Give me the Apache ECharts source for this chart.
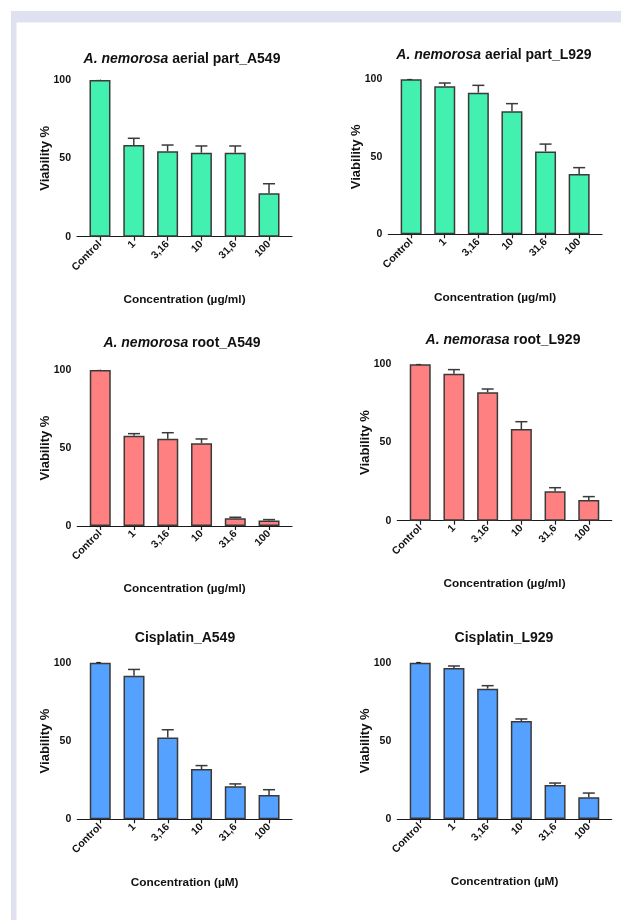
<!DOCTYPE html>
<html>
<head>
<meta charset="utf-8">
<script src="https://cdn.jsdelivr.net/npm/echarts@6/dist/echarts.min.js"></script>
<style>
  html, body { margin: 0; padding: 0; background: #fff; }
  #chart { width: 621px; height: 920px; }
</style>
</head>
<body>
<div id="chart"></div>
<script>
// categories / ticks
var concentrations = ['Control', '1', '3,16', '10', '31,6', '100']
var yTicks = [0, 50, 100]

// mean viability (%) and SD
var aerialA549 = [100, 58.5, 54.5, 53.6, 53.6, 27.7]
var aerialA549Err = [0, 4.3, 4.0, 4.3, 4.3, 6.1]
var aerialL929 = [100, 95.5, 91.4, 79.4, 53.5, 38.9]
var aerialL929Err = [0, 2.1, 4.7, 4.9, 4.7, 4.1]
var rootA549 = [100, 57.9, 56.0, 53.0, 4.9, 3.6]
var rootA549Err = [0, 1.3, 3.8, 2.8, 0.7, 0.5]
var rootL929 = [100, 94.0, 82.1, 58.6, 18.8, 13.2]
var rootL929Err = [0, 2.6, 2.1, 4.7, 2.3, 2.2]
var cisA549 = [100, 91.7, 52.3, 32.1, 21.1, 15.5]
var cisA549Err = [0, 4.0, 4.9, 2.2, 1.5, 3.4]
var cisL929 = [100, 96.6, 83.4, 62.7, 21.7, 13.9]
var cisL929Err = [0, 1.3, 1.9, 1.3, 1.3, 2.7]

var titles = [
  '{i|A. nemorosa} aerial part_A549',
  '{i|A. nemorosa} aerial part_L929',
  '{i|A. nemorosa} root_A549',
  '{i|A. nemorasa} root_L929',
  'Cisplatin_A549',
  'Cisplatin_L929'
]
var xNames = ['Concentration (µg/ml)', 'Concentration (µg/ml)', 'Concentration (µg/ml)',
  'Concentration (µg/ml)', 'Concentration (µM)', 'Concentration (µM)']
var yName = 'Viability %'

var FONT = '"Liberation Sans", Arial, sans-serif'
var GREEN = '#42f0b0'
var RED = '#ff8080'
var BLUE = '#55a1ff'
var EDGE = '#3a3a3a'

// layout of the six panels: grid box + title centre
var panels = [
  { values: aerialA549, errs: aerialA549Err, color: GREEN, grid: [77, 80, 215, 156.7], title: [182, 59] },
  { values: aerialL929, errs: aerialL929Err, color: GREEN, grid: [388.3, 79.3, 213.7, 155], title: [494, 55] },
  { values: rootA549, errs: rootA549Err, color: RED, grid: [77.3, 370, 214.7, 156], title: [182, 343] },
  { values: rootL929, errs: rootL929Err, color: RED, grid: [397.3, 364.3, 214.4, 156.4], title: [503, 340.5] },
  { values: cisA549, errs: cisA549Err, color: BLUE, grid: [77.3, 662.7, 214.7, 156.6], title: [185, 638] },
  { values: cisL929, errs: cisL929Err, color: BLUE, grid: [397.3, 662.7, 214.4, 156.3], title: [504, 638] }
]

var idx = concentrations.map(function (c, i) { return i })

var grids = [], xAxes = [], yAxes = [], series = [], graphics = []

// lavender frame of the page
graphics.push({ type: 'rect', shape: { x: 11, y: 11, width: 610, height: 11.5 }, style: { fill: '#dfe1f1' }, silent: true })
graphics.push({ type: 'rect', shape: { x: 11, y: 11, width: 5.5, height: 909 }, style: { fill: '#dfe1f1' }, silent: true })

panels.forEach(function (p, i) {
  grids.push({ left: p.grid[0], top: p.grid[1], width: p.grid[2], height: p.grid[3] })

  xAxes.push({
    type: 'value',
    gridIndex: i,
    min: -0.68,
    max: 5.68,
    splitLine: { show: false },
    axisLine: { show: true, onZero: false, lineStyle: { color: '#1a1a1a', width: 1.2 } },
    axisTick: { show: true, customValues: idx, length: 4, lineStyle: { color: '#1a1a1a', width: 1.2 } },
    axisLabel: {
      customValues: idx,
      formatter: function (v) { return concentrations[Math.round(v)] },
      rotate: 45,
      margin: 6,
      fontFamily: FONT,
      fontWeight: 'bold',
      fontSize: 10.5,
      color: '#111'
    },
    name: xNames[i],
    nameLocation: 'middle',
    nameGap: 57,
    nameMoveOverlap: false,
    nameTextStyle: { fontFamily: FONT, fontWeight: 'bold', fontSize: 11.8, color: '#111' }
  })

  yAxes.push({
    type: 'value',
    gridIndex: i,
    min: yTicks[0],
    max: yTicks[yTicks.length - 1],
    interval: 50,
    splitLine: { show: false },
    axisLine: { show: true, lineStyle: { color: '#1a1a1a', width: 1.2 } },
    axisTick: { show: true, length: 4, lineStyle: { color: '#1a1a1a', width: 1.2 } },
    axisLabel: { margin: 6, fontFamily: FONT, fontWeight: 'bold', fontSize: 10.5, color: '#111' },
    name: yName,
    nameLocation: 'middle',
    nameGap: 25,
    nameMoveOverlap: false,
    nameTextStyle: { fontFamily: FONT, fontWeight: 'bold', fontSize: 13, color: '#111' }
  })

  series.push({
    type: 'bar',
    xAxisIndex: i,
    yAxisIndex: i,
    barWidth: 21,
    itemStyle: { color: p.color, borderColor: EDGE, borderWidth: 1.5 },
    data: p.values.map(function (v, k) { return [k, v] })
  })

  series.push({
    type: 'custom',
    xAxisIndex: i,
    yAxisIndex: i,
    z: 3,
    renderItem: function (params, api) {
      var x = api.value(0), v = api.value(1), e = api.value(2)
      if (!e) return null
      var base = api.coord([x, v])
      var top = api.coord([x, v + e])
      return {
        type: 'group',
        children: [{
          type: 'line',
          shape: { x1: base[0], y1: base[1], x2: top[0], y2: top[1] },
          style: { stroke: EDGE, lineWidth: 1.5 }
        }, {
          type: 'line',
          shape: { x1: top[0] - 6, y1: top[1], x2: top[0] + 6, y2: top[1] },
          style: { stroke: EDGE, lineWidth: 1.5 }
        }]
      }
    },
    data: p.values.map(function (v, k) { return [k, v, p.errs[k]] })
  })

  graphics.push({
    type: 'text',
    x: p.title[0],
    y: p.title[1],
    silent: true,
    style: {
      text: titles[i],
      align: 'center',
      verticalAlign: 'middle',
      fontFamily: FONT,
      fontWeight: 'bold',
      fontSize: 14,
      fill: '#111',
      rich: {
        i: { fontFamily: FONT, fontWeight: 'bold', fontStyle: 'italic', fontSize: 14, fill: '#111' }
      }
    }
  })
})

var chart = echarts.init(document.getElementById('chart'))
chart.setOption({
  animation: false,
  backgroundColor: '#fff',
  grid: grids,
  xAxis: xAxes,
  yAxis: yAxes,
  series: series,
  graphic: graphics
})
window.addEventListener('resize', function () { chart.resize() })
</script>
</body>
</html>
